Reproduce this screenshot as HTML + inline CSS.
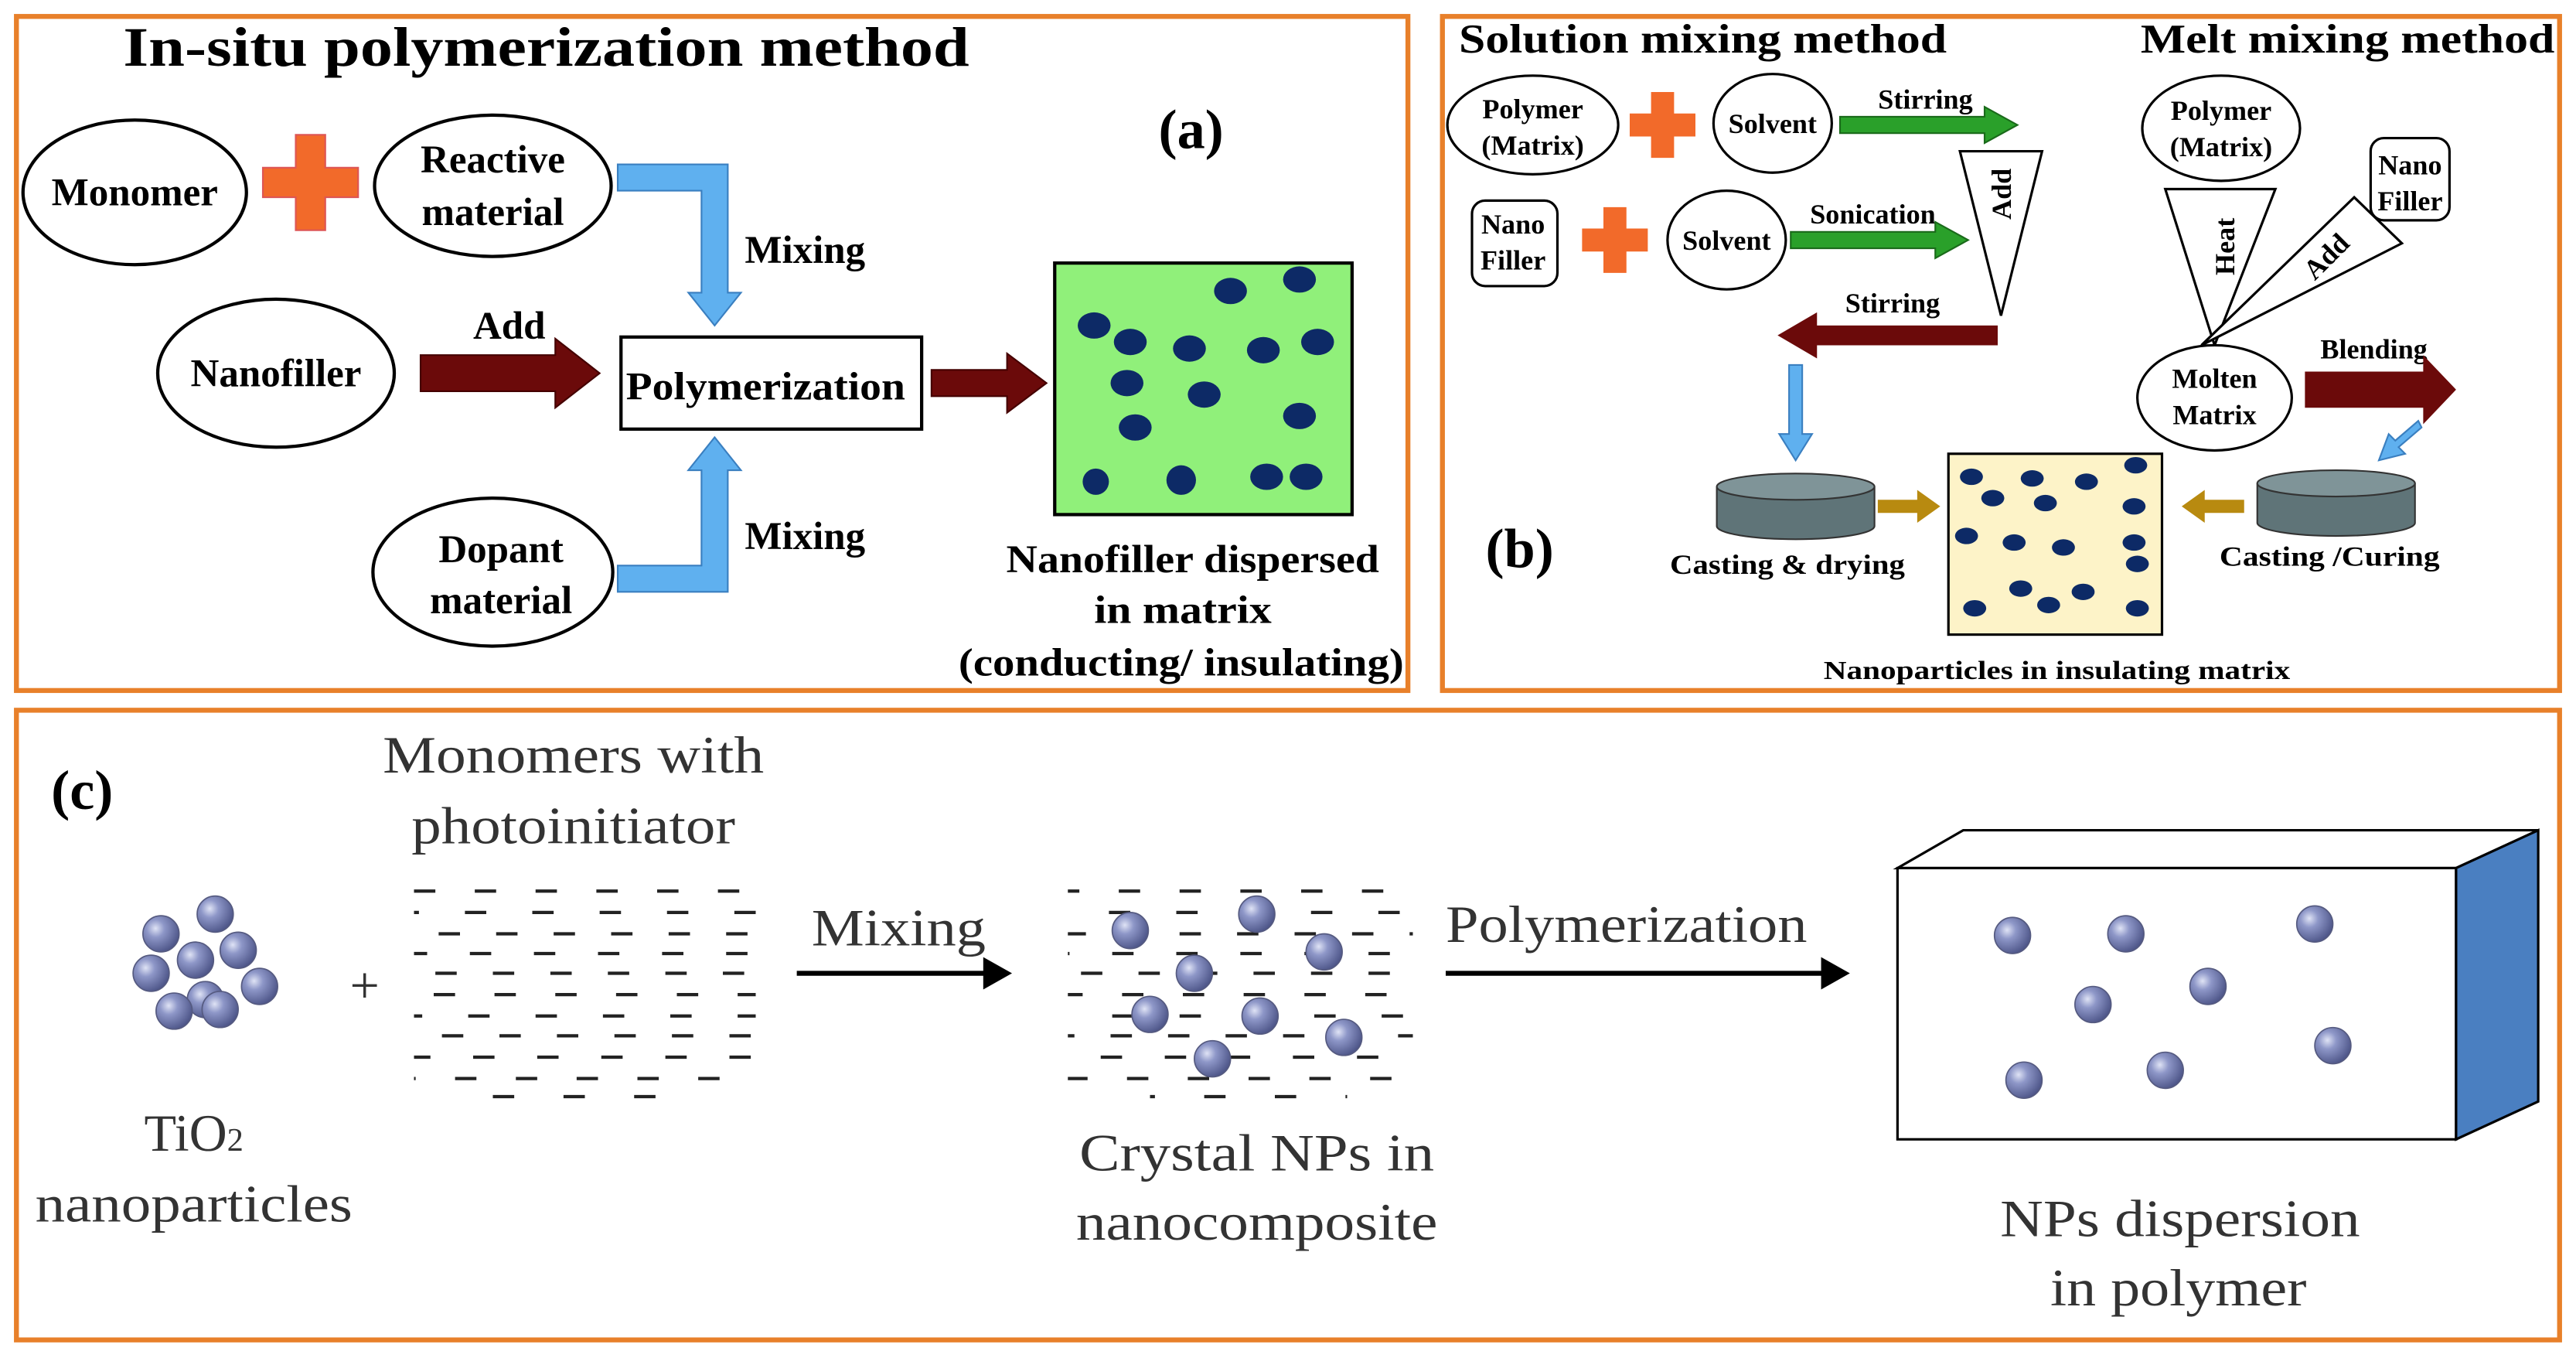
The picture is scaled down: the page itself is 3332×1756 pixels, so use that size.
<!DOCTYPE html>
<html><head><meta charset="utf-8"><style>
html,body{margin:0;padding:0;background:#fff;}
svg{display:block;}
text{font-family:"Liberation Serif",serif;}
.b{font-weight:bold;}
</style></head><body>
<svg width="3332" height="1756" viewBox="0 0 1568 826" preserveAspectRatio="none" xmlns="http://www.w3.org/2000/svg">
<defs>
<radialGradient id="sp" cx="0.35" cy="0.35" r="0.7">
<stop offset="0" stop-color="#dfe3f5"/><stop offset="0.35" stop-color="#8e97c8"/><stop offset="1" stop-color="#4c5487"/>
</radialGradient>
<g id="s"><circle r="11" fill="url(#sp)" stroke="#555a80" stroke-width="0.8"/></g>
<g id="dish"><path d="M-48 0 v24 a48 8 0 0 0 96 0 v-24" fill="#5f7478" stroke="#333"/><ellipse cx="0" cy="0" rx="48" ry="8" fill="#7f9498" stroke="#333"/></g>
</defs>
<rect width="1568" height="826" fill="#fff"/>
<!-- panels -->
<rect x="10" y="10" width="847" height="410" fill="none" stroke="#e8802a" stroke-width="3"/>
<rect x="878" y="10" width="680" height="410" fill="none" stroke="#e8802a" stroke-width="3"/>
<rect x="10" y="432" width="1548" height="383" fill="none" stroke="#e8802a" stroke-width="3"/>

<!-- Panel a -->
<text x="75" y="40" class="b" font-size="34" textLength="515" lengthAdjust="spacingAndGlyphs">In-situ polymerization method</text>
<text x="725" y="90" class="b" font-size="34" text-anchor="middle">(a)</text>
<g fill="#fff" stroke="#000" stroke-width="2">
<ellipse cx="82" cy="117" rx="68" ry="44"/>
<ellipse cx="300" cy="113" rx="72" ry="43"/>
<ellipse cx="168" cy="227" rx="72" ry="45"/>
<ellipse cx="300" cy="348" rx="73" ry="45"/>
<rect x="378" y="205" width="183" height="56"/>
</g>
<path d="M180 82h18v20h20v18h-20v20h-18v-20h-20v-18h20z" fill="#f26a2a" stroke="#d55"/>
<path d="M376 100h67v78h8l-16 20l-16-20h8v-62h-51z" fill="#5fb0ef" stroke="#3a7fc0"/>
<path d="M376 360h67v-74h8l-16-20l-16 20h8v58h-51z" fill="#5fb0ef" stroke="#3a7fc0"/>
<path d="M256 216h82v-10l27 21l-27 21v-10h-82z" fill="#6b0a0a" stroke="#400"/>
<path d="M567 225h46v-10l24 18l-24 18v-10h-46z" fill="#6b0a0a" stroke="#400"/>
<g class="b" font-size="24" text-anchor="middle">
<text x="82" y="125">Monomer</text>
<text x="300" y="105">Reactive</text><text x="300" y="137">material</text>
<text x="168" y="235">Nanofiller</text>
<text x="305" y="342">Dopant</text><text x="305" y="373">material</text>
<text x="466" y="243" textLength="170" lengthAdjust="spacingAndGlyphs">Polymerization</text>
<text x="310" y="206">Add</text>
<text x="490" y="160">Mixing</text>
<text x="490" y="334">Mixing</text>
<text x="726" y="348" textLength="227" lengthAdjust="spacingAndGlyphs">Nanofiller dispersed</text>
<text x="720" y="379" textLength="108" lengthAdjust="spacingAndGlyphs">in matrix</text>
<text x="719" y="411" textLength="271" lengthAdjust="spacingAndGlyphs">(conducting/ insulating)</text>
</g>
<rect x="642" y="160" width="181" height="153" fill="#90f07a" stroke="#000" stroke-width="2"/>
<g fill="#0d2a66">
<ellipse cx="666" cy="198" rx="10" ry="8"/><ellipse cx="688" cy="208" rx="10" ry="8"/><ellipse cx="749" cy="177" rx="10" ry="8"/><ellipse cx="791" cy="170" rx="10" ry="8"/>
<ellipse cx="724" cy="212" rx="10" ry="8"/><ellipse cx="769" cy="213" rx="10" ry="8"/><ellipse cx="802" cy="208" rx="10" ry="8"/>
<ellipse cx="686" cy="233" rx="10" ry="8"/><ellipse cx="733" cy="240" rx="10" ry="8"/><ellipse cx="791" cy="253" rx="10" ry="8"/>
<ellipse cx="691" cy="260" rx="10" ry="8"/><ellipse cx="667" cy="293" rx="8" ry="8"/><ellipse cx="719" cy="292" rx="9" ry="9"/>
<ellipse cx="771" cy="290" rx="10" ry="8"/><ellipse cx="795" cy="290" rx="10" ry="8"/>
</g>

<!-- Panel b -->
<text x="888" y="32" class="b" font-size="25" textLength="297" lengthAdjust="spacingAndGlyphs">Solution mixing method</text>
<text x="1303" y="32" class="b" font-size="25" textLength="252" lengthAdjust="spacingAndGlyphs">Melt mixing method</text>
<text x="925" y="345" class="b" font-size="34" text-anchor="middle">(b)</text>
<g fill="#fff" stroke="#000" stroke-width="1.5">
<ellipse cx="933" cy="76" rx="52" ry="30"/>
<ellipse cx="1079" cy="75" rx="36" ry="30"/>
<rect x="896" y="122" width="52" height="52" rx="8"/>
<ellipse cx="1051" cy="146" rx="36" ry="30"/>
<polygon points="1193,92 1243,92 1218,192"/>
<ellipse cx="1352" cy="78" rx="48" ry="32"/>
<rect x="1443" y="84" width="48" height="50" rx="8"/>
<polygon points="1318,115 1385,115 1348,210"/>
<polygon points="1340,210 1433,120 1462,148"/>
<ellipse cx="1348" cy="242" rx="47" ry="32"/>
</g>
<path d="M1005 56h14v13h13v14h-13v13h-14v-13h-13v-14h13z" fill="#f26a2a"/>
<path d="M976 126h14v13h13v14h-13v13h-14v-13h-13v-14h13z" fill="#f26a2a"/>
<g class="b" font-size="17" text-anchor="middle">
<text x="933" y="72">Polymer</text><text x="933" y="94">(Matrix)</text>
<text x="1079" y="81">Solvent</text>
<text x="921" y="142">Nano</text><text x="921" y="164">Filler</text>
<text x="1051" y="152">Solvent</text>
<text x="1172" y="66">Stirring</text>
<text x="1140" y="136">Sonication</text>
<text x="1152" y="190">Stirring</text>
<text x="1352" y="73">Polymer</text><text x="1352" y="95">(Matrix)</text>
<text x="1467" y="106">Nano</text><text x="1467" y="128">Filler</text>
<text x="1348" y="236">Molten</text><text x="1348" y="258">Matrix</text>
<text x="1445" y="218">Blending</text>
<text x="1088" y="349" textLength="143" lengthAdjust="spacingAndGlyphs">Casting &amp; drying</text>
<text x="1418" y="344" textLength="134" lengthAdjust="spacingAndGlyphs">Casting /Curing</text>
<text x="1252" y="413" font-size="16" textLength="284" lengthAdjust="spacingAndGlyphs">Nanoparticles in insulating matrix</text>
<text transform="translate(1224,118) rotate(-90)">Add</text>
<text transform="translate(1360,150) rotate(-90)">Heat</text>
<text transform="translate(1420,160) rotate(-45)">Add</text>
</g>
<path d="M1120 71h88v-6l20 11l-20 11v-6h-88z" fill="#2aa02a" stroke="#1a6a1a"/>
<path d="M1090 141h88v-6l20 11l-20 11v-6h-88z" fill="#2aa02a" stroke="#1a6a1a"/>
<path d="M1216 198h-110v-8l-24 14l24 14v-8h110z" fill="#6b0a0a"/>
<path d="M1403 226h72v-10l20 21l-20 21v-10h-72z" fill="#6b0a0a"/>
<path d="M1089 222h8v42h6l-10 16l-10-16h6z" fill="#5fb0ef" stroke="#3a7fc0"/>
<path d="M1472 256l-14 12l-4-4l-6 16l16-4l-4-4l14-12z" fill="#5fb0ef" stroke="#3a7fc0"/>
<path d="M1143 304h24v-6l14 10l-14 10v-6h-24z" fill="#b88a10"/>
<path d="M1366 304h-24v-6l-14 10l14 10v-6h24z" fill="#b88a10"/>
<use href="#dish" x="1093" y="296"/>
<use href="#dish" x="1422" y="294"/>
<rect x="1186" y="276" width="130" height="110" fill="#fdf3c8" stroke="#000" stroke-width="1.5"/>
<g fill="#0d2a66">
<ellipse cx="1200" cy="290" rx="7" ry="5"/><ellipse cx="1237" cy="291" rx="7" ry="5"/><ellipse cx="1270" cy="293" rx="7" ry="5"/><ellipse cx="1300" cy="283" rx="7" ry="5"/>
<ellipse cx="1213" cy="303" rx="7" ry="5"/><ellipse cx="1245" cy="306" rx="7" ry="5"/><ellipse cx="1299" cy="308" rx="7" ry="5"/>
<ellipse cx="1197" cy="326" rx="7" ry="5"/><ellipse cx="1226" cy="330" rx="7" ry="5"/><ellipse cx="1256" cy="333" rx="7" ry="5"/><ellipse cx="1299" cy="330" rx="7" ry="5"/>
<ellipse cx="1301" cy="343" rx="7" ry="5"/><ellipse cx="1230" cy="358" rx="7" ry="5"/><ellipse cx="1268" cy="360" rx="7" ry="5"/>
<ellipse cx="1202" cy="370" rx="7" ry="5"/><ellipse cx="1247" cy="368" rx="7" ry="5"/><ellipse cx="1301" cy="370" rx="7" ry="5"/>
</g>

<!-- Panel c -->
<text x="50" y="492" class="b" font-size="34" text-anchor="middle">(c)</text>
<g font-size="32" fill="#333" text-anchor="middle">
<text x="349" y="470" textLength="232" lengthAdjust="spacingAndGlyphs">Monomers with</text>
<text x="349" y="513" textLength="197" lengthAdjust="spacingAndGlyphs">photoinitiator</text>
<text x="547" y="575" textLength="106" lengthAdjust="spacingAndGlyphs">Mixing</text>
<text x="990" y="573" textLength="220" lengthAdjust="spacingAndGlyphs">Polymerization</text>
<text x="118" y="700">TiO<tspan font-size="20">2</tspan></text>
<text x="118" y="743" textLength="193" lengthAdjust="spacingAndGlyphs">nanoparticles</text>
<text x="765" y="712" textLength="216" lengthAdjust="spacingAndGlyphs">Crystal NPs in</text>
<text x="765" y="754" textLength="220" lengthAdjust="spacingAndGlyphs">nanocomposite</text>
<text x="1327" y="752" textLength="219" lengthAdjust="spacingAndGlyphs">NPs dispersion</text>
<text x="1326" y="794" textLength="156" lengthAdjust="spacingAndGlyphs">in polymer</text>
<text x="222" y="610">+</text>
</g>
<g stroke="#222" stroke-width="2">
<line x1="252" y1="542" x2="460" y2="542" stroke-dasharray="13 24" stroke-dashoffset="0"/>
<line x1="252" y1="555" x2="460" y2="555" stroke-dasharray="13 28" stroke-dashoffset="10"/>
<line x1="252" y1="568" x2="460" y2="568" stroke-dasharray="13 22" stroke-dashoffset="20"/>
<line x1="252" y1="580" x2="460" y2="580" stroke-dasharray="13 26" stroke-dashoffset="5"/>
<line x1="245" y1="592" x2="460" y2="592" stroke-dasharray="13 22" stroke-dashoffset="15"/>
<line x1="252" y1="605" x2="460" y2="605" stroke-dasharray="13 24" stroke-dashoffset="25"/>
<line x1="252" y1="618" x2="460" y2="618" stroke-dasharray="13 28" stroke-dashoffset="8"/>
<line x1="252" y1="630" x2="460" y2="630" stroke-dasharray="13 22" stroke-dashoffset="18"/>
<line x1="252" y1="643" x2="460" y2="643" stroke-dasharray="13 26" stroke-dashoffset="3"/>
<line x1="252" y1="656" x2="460" y2="656" stroke-dasharray="13 24" stroke-dashoffset="12"/>
<line x1="300" y1="667" x2="420" y2="667" stroke-dasharray="13 30" stroke-dashoffset="0"/>
<line x1="650" y1="542" x2="860" y2="542" stroke-dasharray="13 24" stroke-dashoffset="6"/>
<line x1="650" y1="555" x2="860" y2="555" stroke-dasharray="13 28" stroke-dashoffset="16"/>
<line x1="650" y1="568" x2="860" y2="568" stroke-dasharray="13 22" stroke-dashoffset="2"/>
<line x1="650" y1="580" x2="860" y2="580" stroke-dasharray="13 26" stroke-dashoffset="12"/>
<line x1="645" y1="592" x2="860" y2="592" stroke-dasharray="13 22" stroke-dashoffset="22"/>
<line x1="650" y1="605" x2="860" y2="605" stroke-dasharray="13 24" stroke-dashoffset="4"/>
<line x1="650" y1="618" x2="860" y2="618" stroke-dasharray="13 28" stroke-dashoffset="14"/>
<line x1="650" y1="630" x2="860" y2="630" stroke-dasharray="13 22" stroke-dashoffset="9"/>
<line x1="650" y1="643" x2="860" y2="643" stroke-dasharray="13 26" stroke-dashoffset="19"/>
<line x1="650" y1="656" x2="860" y2="656" stroke-dasharray="13 24" stroke-dashoffset="1"/>
<line x1="700" y1="667" x2="820" y2="667" stroke-dasharray="13 30" stroke-dashoffset="10"/>
</g>
<g stroke="#000" stroke-width="3" fill="#000">
<line x1="485" y1="592" x2="605" y2="592"/><path d="M615 592l-16-9v18z" stroke-width="1"/>
<line x1="880" y1="592" x2="1115" y2="592"/><path d="M1125 592l-16-9v18z" stroke-width="1"/>
</g>
<use href="#s" x="131" y="556"/><use href="#s" x="98" y="568"/><use href="#s" x="145" y="578"/>
<use href="#s" x="119" y="584"/><use href="#s" x="92" y="592"/><use href="#s" x="158" y="600"/>
<use href="#s" x="125" y="608"/><use href="#s" x="106" y="615"/><use href="#s" x="134" y="614"/>
<use href="#s" x="688" y="566"/><use href="#s" x="765" y="556"/><use href="#s" x="806" y="579"/>
<use href="#s" x="727" y="592"/><use href="#s" x="700" y="617"/><use href="#s" x="767" y="618"/>
<use href="#s" x="818" y="631"/><use href="#s" x="738" y="644"/>
<polygon points="1155,528 1195,505 1545,505 1495,528" fill="#fff" stroke="#000" stroke-width="1.5"/>
<rect x="1155" y="528" width="340" height="165" fill="#fff" stroke="#000" stroke-width="1.5"/>
<polygon points="1495,528 1545,505 1545,670 1495,693" fill="#4a7fc1" stroke="#000" stroke-width="1.5"/>
<use href="#s" x="1225" y="569"/><use href="#s" x="1294" y="568"/><use href="#s" x="1409" y="562"/>
<use href="#s" x="1274" y="611"/><use href="#s" x="1344" y="600"/><use href="#s" x="1420" y="636"/>
<use href="#s" x="1232" y="657"/><use href="#s" x="1318" y="651"/>
</svg>
</body></html>
